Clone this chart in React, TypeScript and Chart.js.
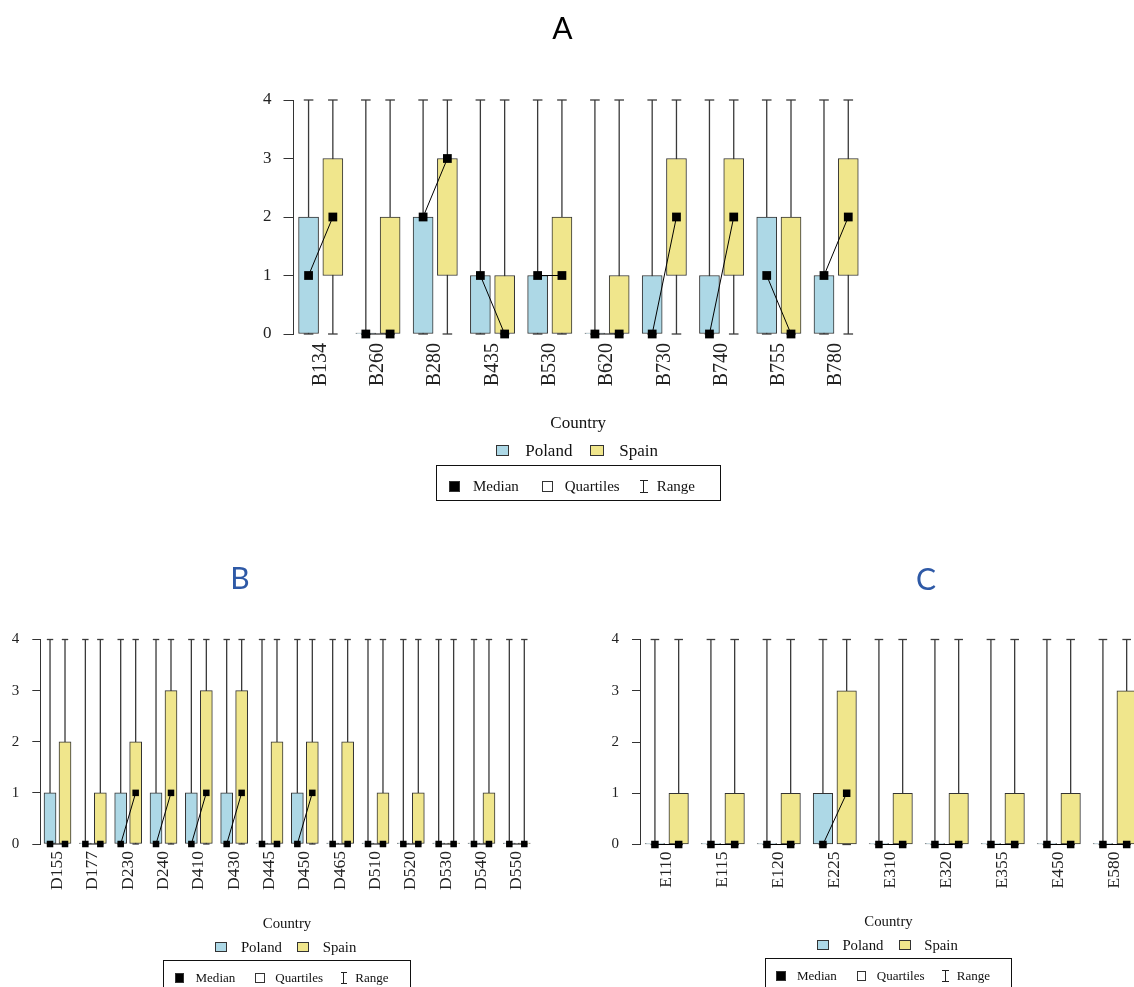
import React, { useEffect, useRef } from "react";
import { Chart, registerables } from "chart.js";

Chart.register(...registerables);

// ---------- Panel A ----------
const panelALabels = ["B134", "B260", "B280", "B435", "B530", "B620", "B730", "B740", "B755", "B780"];
const panelAPolandQ1 = [0, 0, 0, 0, 0, 0, 0, 0, 0, 0];
const panelAPolandQ3 = [2, 0, 2, 1, 1, 0, 1, 1, 2, 1];
const panelAPolandMedian = [1, 0, 2, 1, 1, 0, 0, 0, 1, 1];
const panelAPolandMin = [0, 0, 0, 0, 0, 0, 0, 0, 0, 0];
const panelAPolandMax = [4, 4, 4, 4, 4, 4, 4, 4, 4, 4];
const panelASpainQ1 = [1, 0, 1, 0, 0, 0, 1, 1, 0, 1];
const panelASpainQ3 = [3, 2, 3, 1, 2, 1, 3, 3, 2, 3];
const panelASpainMedian = [2, 0, 3, 0, 1, 0, 2, 2, 0, 2];
const panelASpainMin = [0, 0, 0, 0, 0, 0, 0, 0, 0, 0];
const panelASpainMax = [4, 4, 4, 4, 4, 4, 4, 4, 4, 4];

// ---------- Panel B ----------
const panelBLabels = ["D155", "D177", "D230", "D240", "D410", "D430", "D445", "D450", "D465", "D510", "D520", "D530", "D540", "D550"];
const panelBPolandQ1 = [0, 0, 0, 0, 0, 0, 0, 0, 0, 0, 0, 0, 0, 0];
const panelBPolandQ3 = [1, 0, 1, 1, 1, 1, 0, 1, 0, 0, 0, 0, 0, 0];
const panelBPolandMedian = [0, 0, 0, 0, 0, 0, 0, 0, 0, 0, 0, 0, 0, 0];
const panelBPolandMin = [0, 0, 0, 0, 0, 0, 0, 0, 0, 0, 0, 0, 0, 0];
const panelBPolandMax = [4, 4, 4, 4, 4, 4, 4, 4, 4, 4, 4, 4, 4, 4];
const panelBSpainQ1 = [0, 0, 0, 0, 0, 0, 0, 0, 0, 0, 0, 0, 0, 0];
const panelBSpainQ3 = [2, 1, 2, 3, 3, 3, 2, 2, 2, 1, 1, 0, 1, 0];
const panelBSpainMedian = [0, 0, 1, 1, 1, 1, 0, 1, 0, 0, 0, 0, 0, 0];
const panelBSpainMin = [0, 0, 0, 0, 0, 0, 0, 0, 0, 0, 0, 0, 0, 0];
const panelBSpainMax = [4, 4, 4, 4, 4, 4, 4, 4, 4, 4, 4, 4, 4, 4];

// ---------- Panel C ----------
const panelCLabels = ["E110", "E115", "E120", "E225", "E310", "E320", "E355", "E450", "E580"];
const panelCPolandQ1 = [0, 0, 0, 0, 0, 0, 0, 0, 0];
const panelCPolandQ3 = [0, 0, 0, 1, 0, 0, 0, 0, 0];
const panelCPolandMedian = [0, 0, 0, 0, 0, 0, 0, 0, 0];
const panelCPolandMin = [0, 0, 0, 0, 0, 0, 0, 0, 0];
const panelCPolandMax = [4, 4, 4, 4, 4, 4, 4, 4, 4];
const panelCSpainQ1 = [0, 0, 0, 0, 0, 0, 0, 0, 0];
const panelCSpainQ3 = [1, 1, 1, 3, 1, 1, 1, 1, 3];
const panelCSpainMedian = [0, 0, 0, 1, 0, 0, 0, 0, 0];
const panelCSpainMin = [0, 0, 0, 0, 0, 0, 0, 0, 0];
const panelCSpainMax = [4, 4, 4, 4, 4, 4, 4, 4, 4];

const yTicks = [0, 1, 2, 3, 4];
const seriesNames = ["Poland", "Spain"];
const legendTitle = "Country";
const POLAND_COLOR = "#ADD8E6";
const SPAIN_COLOR = "#F0E68C";
const SERIF = "'Liberation Serif', 'Times New Roman', serif";

type PanelData = {
  labels: string[];
  pQ1: number[]; pQ3: number[]; pMed: number[]; pMin: number[]; pMax: number[];
  sQ1: number[]; sQ3: number[]; sMed: number[]; sMin: number[]; sMax: number[];
};

type PanelStyle = {
  left: number; top: number; width: number; height: number;
  chartLeft: number; chartTop: number; chartBottom: number;
  spacing: number; xMin: number; offset: number;
  boxW: number; capR: number; medR: number;
  fontSize: number; xFontSize: number; tickLen: number; yPad: number; xPad: number;
};

const dataA: PanelData = {
  labels: panelALabels,
  pQ1: panelAPolandQ1, pQ3: panelAPolandQ3, pMed: panelAPolandMedian, pMin: panelAPolandMin, pMax: panelAPolandMax,
  sQ1: panelASpainQ1, sQ3: panelASpainQ3, sMed: panelASpainMedian, sMin: panelASpainMin, sMax: panelASpainMax,
};
const dataB: PanelData = {
  labels: panelBLabels,
  pQ1: panelBPolandQ1, pQ3: panelBPolandQ3, pMed: panelBPolandMedian, pMin: panelBPolandMin, pMax: panelBPolandMax,
  sQ1: panelBSpainQ1, sQ3: panelBSpainQ3, sMed: panelBSpainMedian, sMin: panelBSpainMin, sMax: panelBSpainMax,
};
const dataC: PanelData = {
  labels: panelCLabels,
  pQ1: panelCPolandQ1, pQ3: panelCPolandQ3, pMed: panelCPolandMedian, pMin: panelCPolandMin, pMax: panelCPolandMax,
  sQ1: panelCSpainQ1, sQ3: panelCSpainQ3, sMed: panelCSpainMedian, sMin: panelCSpainMin, sMax: panelCSpainMax,
};

const styleA: PanelStyle = {
  left: 0, top: 0, width: 1134, height: 420,
  chartLeft: 293.5, chartTop: 100, chartBottom: 334,
  spacing: 57.27, xMin: -0.475, offset: 0.212,
  boxW: 20, capR: 4.8, medR: 6.2,
  fontSize: 17, xFontSize: 20, tickLen: 10, yPad: 12, xPad: 9,
};
const styleB: PanelStyle = {
  left: 0, top: 560, width: 567, height: 427,
  chartLeft: 40.7, chartTop: 79.5, chartBottom: 284,
  spacing: 35.33, xMin: -0.476, offset: 0.212,
  boxW: 12, capR: 3.2, medR: 4.6,
  fontSize: 15, xFontSize: 17.5, tickLen: 8.4, yPad: 13, xPad: 7,
};
const styleC: PanelStyle = {
  left: 580, top: 560, width: 600, height: 427,
  chartLeft: 60.7, chartTop: 79.5, chartBottom: 284.5,
  spacing: 56, xMin: -0.466, offset: 0.212,
  boxW: 19.5, capR: 4.3, medR: 5.3,
  fontSize: 15, xFontSize: 17.5, tickLen: 8.7, yPad: 13, xPad: 7,
};

function BoxChart({ data, st }: { data: PanelData; st: PanelStyle }) {
  const ref = useRef<HTMLCanvasElement | null>(null);
  useEffect(() => {
    if (!ref.current) return;
    const n = data.labels.length;
    const yAxisW = 40;
    const xAxisH = 60;
    const chartRight = st.chartLeft + n * st.spacing;
    const off = st.offset;

    const whiskers: any[] = [];
    const caps: any[] = [];
    const boxP: any[] = [];
    const boxS: any[] = [];
    const medians: any[] = [];
    data.labels.forEach((_, i) => {
      const xp = i - off;
      const xs = i + off;
      whiskers.push({ x: xp, y: data.pMin[i] }, { x: xp, y: data.pMax[i] }, { x: xp, y: null });
      whiskers.push({ x: xs, y: data.sMin[i] }, { x: xs, y: data.sMax[i] }, { x: xs, y: null });
      caps.push({ x: xp, y: data.pMin[i] }, { x: xp, y: data.pMax[i] });
      caps.push({ x: xs, y: data.sMin[i] }, { x: xs, y: data.sMax[i] });
      boxP.push({ x: xp, y: [data.pQ1[i], data.pQ3[i]] });
      boxS.push({ x: xs, y: [data.sQ1[i], data.sQ3[i]] });
      medians.push({ x: xp, y: data.pMed[i] }, { x: xs, y: data.sMed[i] }, { x: i, y: null });
    });

    const yFont = { family: SERIF, size: st.fontSize, weight: "normal" as const };
    const xFont = { family: SERIF, size: st.xFontSize, weight: "normal" as const };

    const chart = new Chart(ref.current, {
      type: "bar",
      data: {
        datasets: [
          {
            type: "line",
            label: "median",
            data: medians,
            borderColor: "#000",
            borderWidth: 1,
            tension: 0,
            spanGaps: false,
            pointStyle: "rect",
            pointRadius: st.medR,
            pointBackgroundColor: "#000",
            pointBorderColor: "#000",
            pointBorderWidth: 0,
            clip: false,
            order: 0,
          } as any,
          {
            type: "bar",
            label: seriesNames[0],
            data: boxP,
            backgroundColor: POLAND_COLOR,
            borderColor: "#333",
            borderWidth: 1,
            borderSkipped: false,
            barThickness: st.boxW,
            grouped: false,
            minBarLength: 1,
            clip: false,
            order: 2,
          } as any,
          {
            type: "bar",
            label: seriesNames[1],
            data: boxS,
            backgroundColor: SPAIN_COLOR,
            borderColor: "#333",
            borderWidth: 1,
            borderSkipped: false,
            barThickness: st.boxW,
            grouped: false,
            minBarLength: 1,
            clip: false,
            order: 2,
          } as any,
          {
            type: "line",
            label: "caps",
            data: caps,
            showLine: false,
            pointStyle: "line",
            pointRadius: st.capR,
            pointBorderColor: "#3a3a3a",
            pointBorderWidth: 1.3,
            clip: false,
            order: 3,
          } as any,
          {
            type: "line",
            label: "range",
            data: whiskers,
            borderColor: "#3a3a3a",
            borderWidth: 1.3,
            pointRadius: 0,
            spanGaps: false,
            tension: 0,
            clip: false,
            order: 4,
          } as any,
        ],
      },
      options: {
        animation: false,
        responsive: false,
        maintainAspectRatio: false,
        devicePixelRatio: 1,
        events: [],
        layout: {
          padding: {
            left: st.chartLeft - yAxisW,
            right: st.width - chartRight,
            top: st.chartTop,
            bottom: st.height - st.chartBottom - xAxisH,
          },
        },
        plugins: {
          legend: { display: false },
          tooltip: { enabled: false },
          title: { display: false },
        },
        scales: {
          x: {
            type: "linear",
            min: st.xMin,
            max: st.xMin + n,
            offset: false,
            grid: { display: false, drawTicks: false, offset: false },
            border: { display: false },
            afterBuildTicks: (scale: any) => {
              scale.ticks = data.labels.map((_, i) => ({ value: i }));
            },
            afterFit: (scale: any) => {
              scale.height = xAxisH;
            },
            ticks: {
              autoSkip: false,
              minRotation: 90,
              maxRotation: 90,
              padding: st.xPad,
              color: "#222",
              font: xFont,
              callback: (v: any) => data.labels[Math.round(Number(v))] ?? "",
            },
          },
          y: {
            type: "linear",
            min: 0,
            max: 4,
            afterBuildTicks: (scale: any) => {
              scale.ticks = yTicks.map((v) => ({ value: v }));
            },
            afterFit: (scale: any) => {
              scale.width = yAxisW;
            },
            grid: {
              display: true,
              drawOnChartArea: false,
              drawTicks: true,
              tickLength: st.tickLen,
              color: "#333",
              lineWidth: 1,
            },
            border: { display: true, color: "#333", width: 1 },
            ticks: {
              padding: st.yPad,
              color: "#222",
              font: yFont,
              callback: (v: any) => String(v),
            },
          },
        },
      } as any,
    });
    return () => chart.destroy();
  }, [data, st]);

  return (
    <canvas
      ref={ref}
      width={st.width}
      height={st.height}
      style={{ position: "absolute", left: st.left, top: st.top, width: st.width, height: st.height }}
    />
  );
}

function Title({ text, x, y, color }: { text: string; x: number; y: number; color: string }) {
  return (
    <span
      style={{
        position: "absolute",
        left: x,
        top: y,
        transform: "translate(-50%, -50%)",
        fontFamily: "Lato, 'Open Sans', sans-serif",
        fontSize: 30,
        lineHeight: 1,
        color,
        whiteSpace: "nowrap",
      }}
    >
      {text}
    </span>
  );
}

function Legend({ cx, boxTop, k }: { cx: number; boxTop: number; k: number }) {
  const boxW = 285 * k;
  const boxH = 36 * k;
  const left = cx - boxW / 2;
  const txt = (s: string, x: number, y: number, size: number, center = false) => (
    <span
      style={{
        position: "absolute",
        left: x,
        top: y,
        transform: center ? "translate(-50%, -50%)" : "translateY(-50%)",
        fontFamily: SERIF,
        fontSize: size,
        lineHeight: 1,
        color: "#111",
        whiteSpace: "nowrap",
      }}
    >
      {s}
    </span>
  );
  const sq = (x: number, y: number, w: number, h: number, bg: string) => (
    <div
      style={{
        position: "absolute",
        left: x,
        top: y - h / 2,
        width: w,
        height: h,
        background: bg,
        border: "1px solid #333",
        boxSizing: "border-box",
      }}
    />
  );
  const rowY = boxTop - 15 * k;
  const innerY = boxTop + 20.7 * k;
  const rangeX = left + 208 * k;
  const rangeH = 13 * k;
  const capW = 8 * k;
  return (
    <>
      {txt(legendTitle, cx, boxTop - 43 * k, 17 * k, true)}
      {sq(cx - 82.5 * k, rowY, 13.6 * k, 11.5 * k, POLAND_COLOR)}
      {txt(seriesNames[0], cx - 53 * k, rowY, 17 * k)}
      {sq(cx + 12 * k, rowY, 13.6 * k, 11.5 * k, SPAIN_COLOR)}
      {txt(seriesNames[1], cx + 41 * k, rowY, 17 * k)}
      <div
        style={{
          position: "absolute",
          left,
          top: boxTop,
          width: boxW,
          height: boxH,
          border: "1px solid #111",
          boxSizing: "border-box",
        }}
      />
      {sq(left + 13.3 * k, innerY, 11 * k, 11 * k, "#000")}
      {txt("Median", left + 37.3 * k, innerY, 15 * k)}
      {sq(left + 106 * k, innerY, 11 * k, 11 * k, "#fff")}
      {txt("Quartiles", left + 129 * k, innerY, 15 * k)}
      <div style={{ position: "absolute", left: rangeX - 0.5, top: innerY - rangeH / 2, width: 1, height: rangeH, background: "#222" }} />
      <div style={{ position: "absolute", left: rangeX - capW / 2, top: innerY - rangeH / 2, width: capW, height: 1, background: "#222" }} />
      <div style={{ position: "absolute", left: rangeX - capW / 2, top: innerY + rangeH / 2 - 1, width: capW, height: 1, background: "#222" }} />
      {txt("Range", left + 221 * k, innerY, 15 * k)}
    </>
  );
}

export default function App() {
  return (
    <div
      style={{
        position: "absolute",
        left: 0,
        top: 0,
        width: 1134,
        height: 987,
        overflow: "hidden",
        background: "#fff",
      }}
    >
      <BoxChart data={dataA} st={styleA} />
      <BoxChart data={dataB} st={styleB} />
      <BoxChart data={dataC} st={styleC} />
      <Title text="A" x={562.5} y={27} color="#000" />
      <Title text="B" x={240} y={577} color="#2E59A6" />
      <Title text="C" x={926} y={578} color="#2E59A6" />
      <Legend cx={578.2} boxTop={465.3} k={1} />
      <Legend cx={287} boxTop={960} k={0.87} />
      <Legend cx={888.5} boxTop={958} k={0.87} />
    </div>
  );
}
